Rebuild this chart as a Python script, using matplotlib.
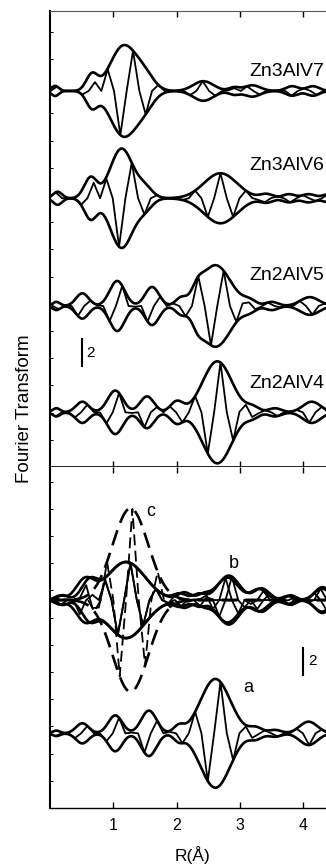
import numpy as np
import matplotlib.pyplot as plt

plt.rcParams['font.family'] = ['Liberation Sans', 'DejaVu Sans']

# Fourier transform shells for each sample: centre R (A), magnitude, width (A),
# quarter-period shift of the imaginary part
v7_r = [0.08, 0.66, 1.16, 1.50, 2.42, 2.90, 3.19, 3.82, 4.15]
v7_a = [0.37, 1.15, 3.30, 0.90, 0.72, 0.25, 0.42, 0.35, 0.35]
v7_w = [0.06, 0.09, 0.21, 0.15, 0.16, 0.08, 0.13, 0.10, 0.10]
v7_q = [0, 2, 0, 0, 1, 0, 2, 1, 1]

v6_r = [0.12, 0.64, 1.13, 1.50, 2.69, 3.42, 3.77, 4.08, 4.40]
v6_a = [0.48, 1.50, 3.65, 0.70, 1.84, 0.30, 0.30, 0.30, 0.30]
v6_w = [0.07, 0.10, 0.18, 0.12, 0.26, 0.10, 0.10, 0.10, 0.10]
v6_q = [0, 2, 0, 0, 2, 1, 1, 1, 1]

v5_r = [0.10, 0.51, 1.06, 1.61, 2.06, 2.33, 2.61, 3.15, 3.50, 4.10]
v5_a = [0.30, 0.93, 1.84, 1.40, 0.45, 0.60, 3.00, 0.35, 0.30, 0.65]
v5_w = [0.06, 0.10, 0.12, 0.11, 0.08, 0.08, 0.24, 0.10, 0.10, 0.15]
v5_q = [0, 1, 0, 2, 0, 0, 0, 1, 1, 0]

v4_r = [0.10, 0.51, 1.03, 1.53, 2.00, 2.64, 3.20, 3.55, 4.13]
v4_a = [0.30, 0.78, 1.60, 1.17, 0.78, 3.75, 0.35, 0.30, 0.78]
v4_w = [0.06, 0.10, 0.12, 0.11, 0.10, 0.23, 0.10, 0.10, 0.14]
v4_q = [0, 1, 0, 2, 0, 0, 1, 1, 0]

a_r = [0.10, 0.51, 1.03, 1.56, 2.03, 2.61, 3.25, 3.55, 4.08]
a_a = [0.20, 0.74, 1.32, 1.67, 0.50, 4.00, 0.40, 0.25, 0.86]
a_w = [0.06, 0.10, 0.11, 0.12, 0.08, 0.235, 0.10, 0.10, 0.14]
a_q = [0, 1, 0, 2, 0, 0, 1, 1, 0]

b_r = [0.15, 0.55, 1.20, 2.05, 2.35, 2.82, 3.34, 3.75, 4.29]
b_a = [0.30, 1.40, 2.80, 0.45, 0.45, 1.80, 0.85, 0.30, 0.85]
b_w = [0.08, 0.14, 0.30, 0.10, 0.10, 0.17, 0.12, 0.08, 0.12]
b_q = [0, 2, 0, 1, 3, 0, 2, 1, 2]

# fitted curve drawn over b
bf_r = [0.20, 0.62, 1.20, 2.12, 2.42, 2.80, 3.30, 3.80, 4.30]
bf_a = [0.35, 1.20, 2.80, 0.55, 0.40, 1.65, 0.80, 0.35, 0.95]
bf_w = [0.08, 0.12, 0.30, 0.10, 0.10, 0.17, 0.12, 0.08, 0.12]
bf_q = [1, 3, 0, 2, 0, 1, 3, 2, 3]

# single-shell calculation, dashed
c_r = [1.27]
c_a = [6.74]
c_w = [0.28]
c_q = [0]

# R of one maximum of the imaginary part for each curve
t_v7, t_v6, t_v5, t_v4 = 1.31, 1.29, 2.74, 2.69
t_a, t_b, t_bf, t_c = 2.69, 1.27, 1.27, 1.30

step = 0.1     # R grid of the imaginary part (quarter period)

top_names = ['Zn3AlV7', 'Zn3AlV6', 'Zn2AlV5', 'Zn2AlV4']
top_sets = [(v7_r, v7_a, v7_w, v7_q, t_v7), (v6_r, v6_a, v6_w, v6_q, t_v6),
            (v5_r, v5_a, v5_w, v5_q, t_v5), (v4_r, v4_a, v4_w, v4_q, t_v4)]
top_offsets = [27.65, 19.76, 11.84, 4.02]

R = np.linspace(0, 4.5, 2000)


def gauss_sum(x, r, a, w, q=None, t0=0.0):
    out = np.zeros_like(x)
    for j, (rj, aj, wj) in enumerate(zip(r, a, w)):
        g = aj * np.exp(-(x - rj) ** 2 / (2 * wj ** 2))
        if q is not None:
            g = g * np.sin(np.pi / 2 * (1 + np.round((x - t0) / step) + q[j]))
        out += g
    return out


def draw(ax, pars, base, dashed=False):
    r, a, w, q, t0 = pars
    mag = gauss_sum(R, r, a, w)
    Ri = np.arange(t0 % step, 4.5, step)
    im = gauss_sum(Ri, r, a, w, q, t0)
    kw = dict(color='black')
    if dashed:
        kw['linestyle'] = (0, (6, 3))
    ax.plot(R, base + mag, lw=1.9, **kw)
    ax.plot(R, base - mag, lw=1.9, **kw)
    ax.plot(Ri, base + im, lw=1.3, **kw)


fig = plt.figure(figsize=(3.26, 8.65), dpi=100)
ax1 = fig.add_axes([50 / 326, 1 - 467 / 865, 282 / 326, 456 / 865])
ax2 = fig.add_axes([50 / 326, 1 - 808 / 865, 282 / 326, 341 / 865])

for pars, off in zip(top_sets, top_offsets):
    draw(ax1, pars, off)
ax1.set_ylim(0, 456 / 13.6)

draw(ax2, (a_r, a_a, a_w, a_q, t_a), 5.49)
draw(ax2, (b_r, b_a, b_w, b_q, t_b), 15.29)
draw(ax2, (bf_r, bf_a, bf_w, bf_q, t_bf), 15.29)
draw(ax2, (c_r, c_a, c_w, c_q, t_c), 15.29, dashed=True)
ax2.set_ylim(0, 341 / 13.6)

# sample labels, right-aligned at the edge
label_y = [72, 165, 275, 384]
for name, ly in zip(top_names, label_y):
    fig.text(324 / 326, 1 - ly / 865, name, fontsize=14, ha='right', va='center')
fig.text(146 / 326, 1 - 512 / 865, 'c', fontsize=13, va='center')
fig.text(229 / 326, 1 - 563 / 865, 'b', fontsize=13, va='center')
fig.text(243 / 326, 1 - 688 / 865, 'a', fontsize=13, va='center')

# scale bars of 2 units
ax1.plot([0.5, 0.5], [7.4, 9.4], color='black', lw=1.5)
ax1.text(0.57, 8.4, '2', fontsize=11, va='center')
ax2.plot([3.99, 3.99], [9.8, 11.8], color='black', lw=1.5)
ax2.text(4.08, 10.8, '2', fontsize=11, va='center')

for ax in (ax1, ax2):
    ax.set_xlim(0, 4.45)
    ax.set_xticks([1, 2, 3, 4])
    ax.set_yticks(np.arange(2, ax.get_ylim()[1], 2))
    ax.tick_params(axis='x', which='both', direction='in', top=True, bottom=True,
                   length=4.5, width=1.0)
    ax.tick_params(axis='y', direction='in', length=2.5, width=0.7, labelleft=False)
    ax.spines['right'].set_visible(False)
    ax.spines['left'].set_linewidth(1.5)

ax1.tick_params(axis='x', labelbottom=False)
ax2.tick_params(axis='x', labelsize=11.5, pad=7)
ax1.spines['top'].set_linewidth(0.8)
ax1.spines['top'].set_color('0.35')
ax1.spines['bottom'].set_linewidth(1.2)
ax2.spines['top'].set_visible(False)
ax2.spines['bottom'].set_linewidth(1.0)

fig.text(192 / 326, 1 - 855 / 865, 'R(Å)', fontsize=12.5, ha='center', va='center')
fig.text(25 / 326, 1 - 409 / 865, 'Fourier Transform', fontsize=13.5, rotation=90,
         ha='center', va='center')

fig.savefig('out.png', dpi=100)
